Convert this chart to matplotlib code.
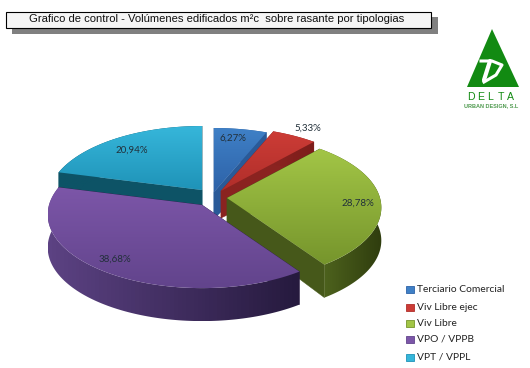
import numpy as np
import matplotlib
matplotlib.use('Agg')
import matplotlib.pyplot as plt
from matplotlib.colors import LinearSegmentedColormap
from matplotlib.patches import Polygon, Rectangle

title = 'Grafico de control - Volúmenes edificados m²c  sobre rasante por tipologias'
categories = ['Terciario Comercial', 'Viv Libre ejec', 'Viv Libre', 'VPO / VPPB', 'VPT / VPPL']
values = [6.27, 5.33, 28.78, 38.68, 20.94]

# layout, in pixels of the 530x368 picture
apexes = [(214, 192), (221, 191), (227, 198), (202, 205), (202, 190)]
label_pos = [(233, 138), (308, 128), (358, 203), (115, 259), (132, 150)]
legend_y = [289, 307, 323, 339, 357]
draw_order = [0, 1, 4, 2, 3]

top_colors = [('#3f80c6', '#2d62a8'), ('#cc3c36', '#b02e2a'), ('#a2c546', '#76952c'),
              ('#7c56a8', '#62448c'), ('#36b6da', '#1f93b8')]
wall_colors = [('#2a5a98', '#2a5a98'), ('#8a2320', '#7c1d1a'), ('#4f641e', '#2f3d0e'),
               ('#5c4283', '#261a3e'), ('#0d5366', '#0d5366')]
face_colors = ['#2a5a98', '#8a2320', '#46581a', '#2b1d45', '#0d5366']

RX, A, K = 153, 72.3, 0.13
RIM_DEPTH, APEX_DEPTH = 33, 27


def project(apex, angle):
    # angle in degrees clockwise from 12 o'clock, with a simple perspective
    t = np.radians(angle)
    s = -np.cos(t)
    d = 1 - K * s
    return apex[0] + RX * np.sin(t) / d, apex[1] + A * s / d


def gradient_fill(ax, pts, colors, z, horizontal=False):
    poly = Polygon(pts, closed=True, fc='none', ec='none', zorder=z)
    ax.add_patch(poly)
    cmap = LinearSegmentedColormap.from_list('fill', colors)
    grad = np.linspace(0, 1, 64)
    grad = grad.reshape(1, -1) if horizontal else grad.reshape(-1, 1)
    im = ax.imshow(grad, cmap=cmap, aspect='auto', origin='upper', zorder=z,
                   extent=(pts[:, 0].min(), pts[:, 0].max(), pts[:, 1].max(), pts[:, 1].min()))
    im.set_clip_path(poly)


def draw_slice(ax, i, start, end, z):
    apex = apexes[i]
    xs, ys = project(apex, np.linspace(start, end, 120))

    # the two cut faces
    for k in (0, -1):
        quad = [apex, (xs[k], ys[k]), (xs[k], ys[k] + RIM_DEPTH), (apex[0], apex[1] + APEX_DEPTH)]
        ax.add_patch(Polygon(quad, closed=True, fc=face_colors[i], ec=face_colors[i],
                             lw=0.3, zorder=z))

    # outer wall, darkening from left to right
    wall = np.column_stack([np.r_[xs, xs[::-1]], np.r_[ys, ys[::-1] + RIM_DEPTH]])
    gradient_fill(ax, wall, wall_colors[i], z + 0.1, horizontal=True)

    # top surface
    pts = np.column_stack([np.r_[apex[0], xs], np.r_[apex[1], ys]])
    gradient_fill(ax, pts, top_colors[i], z + 0.2)


fig = plt.figure(figsize=(5.3, 3.68), dpi=100, facecolor='white')
ax = fig.add_axes([0, 0, 1, 1])
ax.set_axis_off()

# title box with its shadow
ax.add_patch(Rectangle((12, 17), 426, 17, fc='#808080', ec='none', zorder=1))
ax.add_patch(Rectangle((5.5, 11.5), 425, 16, fc='#f5f5f5', ec='black', lw=0.8, zorder=2))
ax.text(217, 19.5, title, family='Liberation Sans', fontsize=8.1, color='#111111',
        ha='center', va='center', zorder=3)

# logo
green = '#128a12'
ax.add_patch(Polygon([(492, 29), (467, 87), (519, 87)], closed=True, fc=green, ec='none'))
ax.plot([481, 492, 502, 496, 484], [61, 61, 65, 75, 82], color='white', lw=2.2,
        solid_joinstyle='round')
ax.plot([490, 484], [61, 80], color='white', lw=3, solid_capstyle='round')
for letter, x in zip('DELTA', [471, 480.5, 490.5, 500.5, 510]):
    ax.text(x, 96.5, letter, family='Liberation Sans', fontsize=7.6, color=green,
            ha='center', va='center')
ax.text(491, 105.5, 'URBAN DESIGN, S.L', family='Liberation Sans', weight='bold', fontsize=4,
        color='#4f9a4f', ha='center', va='center')

# pie slices
angle_edges = np.r_[0, np.cumsum(values)] * 360 / sum(values)
for n, i in enumerate(draw_order):
    draw_slice(ax, i, angle_edges[i], angle_edges[i + 1], 5 + n)

for v, (x, y) in zip(values, label_pos):
    ax.text(x, y, f'{v:.2f}%'.replace('.', ','), family='Lato', fontsize=7, color='#22303a',
            ha='center', va='center', zorder=20)

# legend
for i, (cat, y) in enumerate(zip(categories, legend_y)):
    ax.add_patch(Rectangle((406, y - 3.5), 8, 7, fc=top_colors[i][0], ec=top_colors[i][1], lw=0.6))
    ax.text(417, y, cat, family='Lato', fontsize=7.4, color='#222222', ha='left', va='center')

ax.set_xlim(0, 530)
ax.set_ylim(368, 0)
fig.savefig('out.png', dpi=100)
